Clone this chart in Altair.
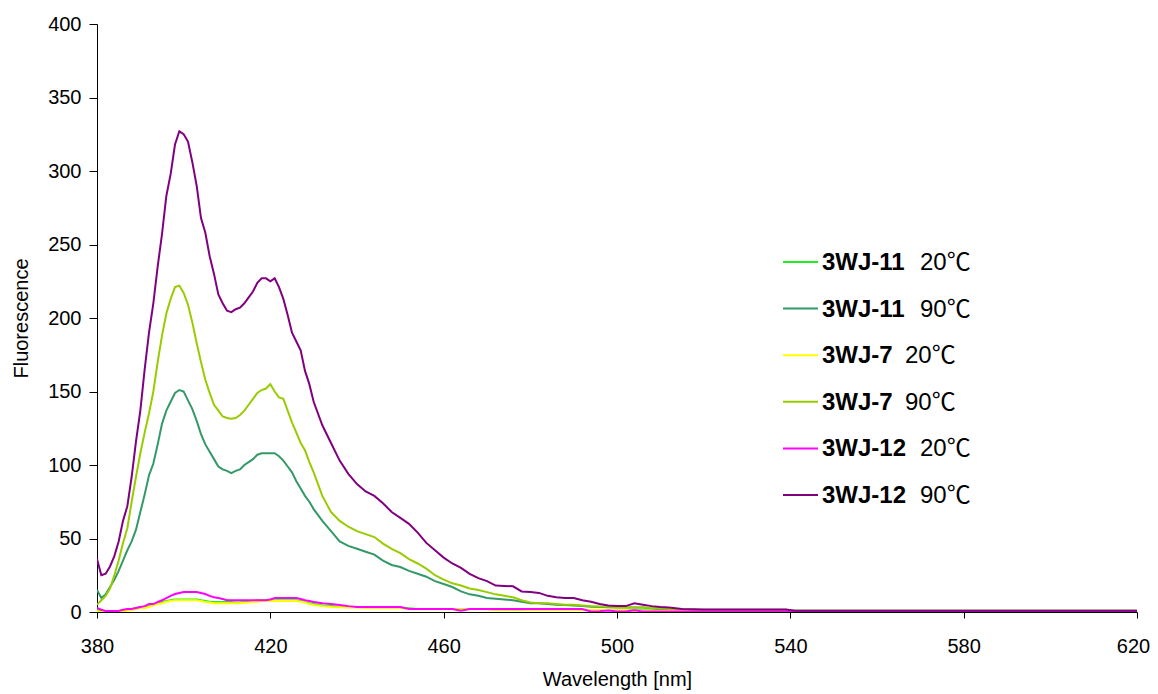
import altair as alt
import pandas as pd

WAVELENGTH = [
    380, 381, 382, 383, 384, 385, 386, 387, 388, 389,
    390, 391, 392, 393, 394, 395, 396, 397, 398, 399,
    400, 401, 402, 403, 404, 405, 406, 407, 408, 409,
    410, 411, 412, 413, 414, 415, 416, 417, 418, 419,
    420, 421, 422, 423, 424, 425, 426, 427, 428, 429,
    430, 432, 434, 436, 438, 440, 442, 444, 446, 448,
    450, 452, 454, 456, 458, 460, 462, 464, 466, 468,
    470, 472, 474, 476, 478, 480, 482, 484, 486, 488,
    490, 492, 494, 496, 498, 500, 502, 504, 506, 508,
    510, 512, 515, 520, 530, 539, 541, 560, 590, 620,
]

SERIES = ["3WJ-11 20℃", "3WJ-11 90℃", "3WJ-7 20℃", "3WJ-7 90℃", "3WJ-12 20℃", "3WJ-12 90℃"]
NAMES = ["3WJ-11", "3WJ-11", "3WJ-7", "3WJ-7", "3WJ-12", "3WJ-12"]
TEMPS = ["20℃", "90℃", "20℃", "90℃", "20℃", "90℃"]
COLORS = ["#1EF01E", "#339966", "#FFFF00", "#99CC00", "#FF00FF", "#800080"]

F_3WJ11_20 = [
    1.4, 1, 0.7, 0.7, 0.7, 0.7, 1, 1.4, 2, 2.7,
    3.4, 3.4, 4, 5, 6, 6.8, 7.5, 8, 8.5, 8.5,
    8.5, 8.5, 8.5, 8.5, 8, 7.5, 7, 6.8, 6.8, 6.8,
    6.8, 6.8, 6.5, 6.5, 7, 7.5, 7.5, 8, 8, 8,
    8, 8, 8, 8, 8, 8, 8, 7.5, 6.8, 6,
    5.4, 4.5, 4, 3.6, 3.4, 3.4, 3, 3, 3, 3,
    3, 2.5, 2, 2, 2, 2, 2, 2, 2, 2,
    2, 1.5, 1.5, 1.4, 1.4, 1.4, 1.4, 1.4, 1.4, 1.4,
    1.4, 1.4, 1.4, 1.4, 1.4, 1.4, 1.4, 1.2, 1.2, 1.2,
    1, 1, 1, 1, 0.8, 0.8, 0.7, 0.7, 0.7, 0.7,
]
F_3WJ11_90 = [
    15, 9.5, 12, 17, 22, 28, 35, 42, 48, 56,
    68, 80, 93, 101, 114, 128, 137, 143, 149, 151,
    150, 144, 138, 130, 121, 114, 109, 104, 99, 97,
    96, 94.5, 96, 97, 100, 102, 104, 107, 108, 108,
    108, 108, 106, 103, 99, 95, 89, 84, 79, 75,
    70, 62, 55, 48, 45, 43, 41, 39, 35, 32,
    30.6, 28, 26, 24, 21, 19, 17, 14, 12, 11,
    9.5, 9, 8.5, 8, 7, 6, 6, 5.5, 5, 4.8,
    4.5, 4, 3.5, 3.4, 3.2, 3, 3, 3, 3, 2.5,
    1.5, 1.4, 1.3, 1.2, 1.2, 1.2, 0.8, 0.8, 0.8, 0.8,
]
F_3WJ7_20 = [
    0.5, 0, 0, 0, 0, 0, 0.5, 1, 1.4, 2,
    2.7, 2.7, 3.4, 4.5, 5.4, 6, 7, 7.5, 8, 8,
    8, 8, 8, 8, 7.5, 6.8, 6.5, 6, 6, 6,
    6, 6, 6, 6, 6.3, 6.5, 6.8, 7, 7.5, 7.5,
    7.5, 7.5, 7.5, 7.5, 7.5, 7.5, 7.5, 7, 6.5, 5.4,
    4.8, 4, 3.4, 3.2, 3, 3, 2.7, 2.7, 2.7, 2.7,
    2.7, 2, 1.8, 1.8, 1.8, 1.8, 1.8, 1.8, 1.8, 1.8,
    1.8, 1.6, 1.6, 1.5, 1.5, 1.4, 1.4, 1.4, 1.4, 1.4,
    1.4, 1.4, 1.4, 1.4, 1.4, 1.4, 1.4, 0.8, 0.8, 0.8,
    0.8, 0.8, 0.6, 0.5, 0.5, 0.5, 0.5, 0.5, 0.5, 0.5,
]
F_3WJ7_90 = [
    5, 8, 11, 16, 25, 35, 47, 57, 75, 92,
    108, 122, 135, 150, 170, 188, 203, 213, 221, 222,
    217, 209, 197, 183, 170, 158, 149, 141, 137, 133,
    132, 131.5, 132, 134, 137, 141, 145, 149, 151, 152,
    155, 150, 146, 145, 137, 129, 122, 115, 110, 102,
    95, 79, 68, 62, 58, 55, 53, 51, 46.5, 43,
    40, 36, 33, 29.5, 25, 22, 19.5, 18, 16, 15,
    13.5, 12, 11, 10, 8, 6.5, 6, 6, 5.5, 5,
    5, 4.5, 4, 3.8, 3.5, 3.4, 3.3, 3, 3, 2.8,
    2.7, 2, 1.8, 1.5, 1.5, 1.5, 0.8, 0.8, 0.8, 0.8,
]
F_3WJ12_20 = [
    2.7, 1.5, 0.7, 0.7, 0.7, 0.7, 1.5, 2, 2, 2.7,
    3.4, 4, 5.4, 5.4, 6.8, 8, 9.5, 11, 12.2, 12.9,
    13.6, 13.6, 13.6, 13.6, 12.9, 12.2, 11, 10, 9.5, 8.8,
    8, 8, 8, 8, 8, 8, 8, 8, 8, 8,
    8.5, 9.5, 9.5, 9.5, 9.5, 9.5, 9.5, 8.8, 8, 7.5,
    6.8, 6, 5.4, 4.8, 4, 3.4, 3.4, 3.4, 3.4, 3.4,
    3.4, 2, 2, 2, 2, 2, 2, 0.8, 2, 2,
    2, 2, 2, 2, 2, 2, 2, 2, 2, 2,
    2, 2, 0.3, 0.5, 1.0, 0.3, 0.3, 1.2, 0.3, 0.3,
    0.3, 0.3, 0.3, 0.3, 0.3, 0.3, 0.3, 0.3, 0.3, 0.3,
]
F_3WJ12_90 = [
    36, 25, 26, 31, 38, 48, 62, 72, 92, 116,
    137, 165, 190, 210, 235, 257, 283, 298, 318, 327,
    325, 320, 306, 290, 268, 258, 242, 230, 216, 210,
    205, 204, 206, 207, 210, 214, 218, 224, 227, 227,
    225, 227, 221, 213, 202, 190, 184, 178, 164, 155,
    143, 127, 115, 103, 94, 87, 82, 79, 74, 68,
    64, 60, 54, 47, 42, 37, 33, 30, 26, 23,
    21, 18, 17.7, 17.5, 14, 13.6, 13, 11, 10, 9.5,
    9.5, 8, 7, 5.5, 4.5, 4, 4, 6, 5, 4,
    3.4, 3, 2, 1.7, 1.7, 1.7, 0.8, 0.8, 0.8, 0.8,
]

VALUES = [F_3WJ11_20, F_3WJ11_90, F_3WJ7_20, F_3WJ7_90, F_3WJ12_20, F_3WJ12_90]

X_TICKS = [380, 420, 460, 500, 540, 580, 620]
Y_TICKS = [0, 50, 100, 150, 200, 250, 300, 350, 400]

rows = []
for i, (s, vals) in enumerate(zip(SERIES, VALUES)):
    for w, v in zip(WAVELENGTH, vals):
        rows.append({"series": s, "wl": w, "f": v, "k": i})
df = pd.DataFrame(rows)

leg_df = pd.DataFrame({"series": SERIES, "name": NAMES, "temp": TEMPS, "rank": list(range(len(SERIES)))})

color_scale = alt.Scale(domain=SERIES, range=COLORS)
color_enc = alt.Color("series:N", scale=color_scale, legend=None)

lines = alt.Chart(df).mark_line(strokeWidth=2, clip=True).encode(
    x=alt.X(
        "wl:Q",
        scale=alt.Scale(domain=[380, 620], nice=False, zero=False),
        axis=alt.Axis(
            values=X_TICKS, title="Wavelength [nm]", format="d",
            tickSize=6, labelPadding=18, labelFlush=False, labelOverlap=False,
            labelOffset={"condition": {"test": "datum.value == 620", "value": -4}, "value": 0},
            titleX=520, titleY=73, titleBaseline="alphabetic", titleAlign="center",
        ),
    ),
    y=alt.Y(
        "f:Q",
        scale=alt.Scale(domain=[0, 400], nice=False),
        axis=alt.Axis(
            values=Y_TICKS, title="Fluorescence",
            tickSize=8, labelPadding=8, labelFlush=False,
            titleX=-76, titleY=294, titleAngle=270, titleBaseline="middle", titleAlign="center",
        ),
    ),
    color=color_enc,
    order=alt.Order("k:Q"),
)

leg_y = alt.Y("rank:Q", scale=alt.Scale(domain=[0, 5], range=[238, 471]), axis=None)

leg_rules = alt.Chart(leg_df).mark_rule(strokeWidth=2).encode(
    x=alt.value(686), x2=alt.value(721), y=leg_y, color=color_enc
)
leg_names = alt.Chart(leg_df).mark_text(
    align="left", baseline="middle", font="Liberation Sans", fontWeight="bold",
    fontSize=24, color="black", dy=1,
).encode(x=alt.value(725), y=leg_y, text="name:N")
leg_temps = alt.Chart(leg_df).transform_calculate(
    tx="725 + 15 * length(datum.name) + 8"
).mark_text(
    align="left", baseline="middle", font="Liberation Sans, Noto Sans CJK SC",
    fontSize=24, color="black", dy=1,
).encode(
    x=alt.X("tx:Q", scale=alt.Scale(domain=[0, 1040]), axis=None),
    y=leg_y,
    text="temp:N",
)

chart = alt.layer(lines, leg_rules, leg_names, leg_temps).resolve_scale(
    x="independent", y="independent"
).properties(
    width=1040, height=588,
    autosize=alt.AutoSizeParams(type="none"),
    padding={"left": 89, "top": 16, "right": 13, "bottom": 80},
    background="white",
).configure_axis(
    domainColor="black", tickColor="black", labelColor="black", titleColor="black",
    labelFont="Liberation Sans", titleFont="Liberation Sans",
    labelFontSize=20, titleFontSize=20, titleFontWeight="normal",
    grid=False, domainWidth=1, tickWidth=1,
).configure_view(stroke=None)

chart.save("out.html", embed_options={"renderer": "svg", "actions": False})
